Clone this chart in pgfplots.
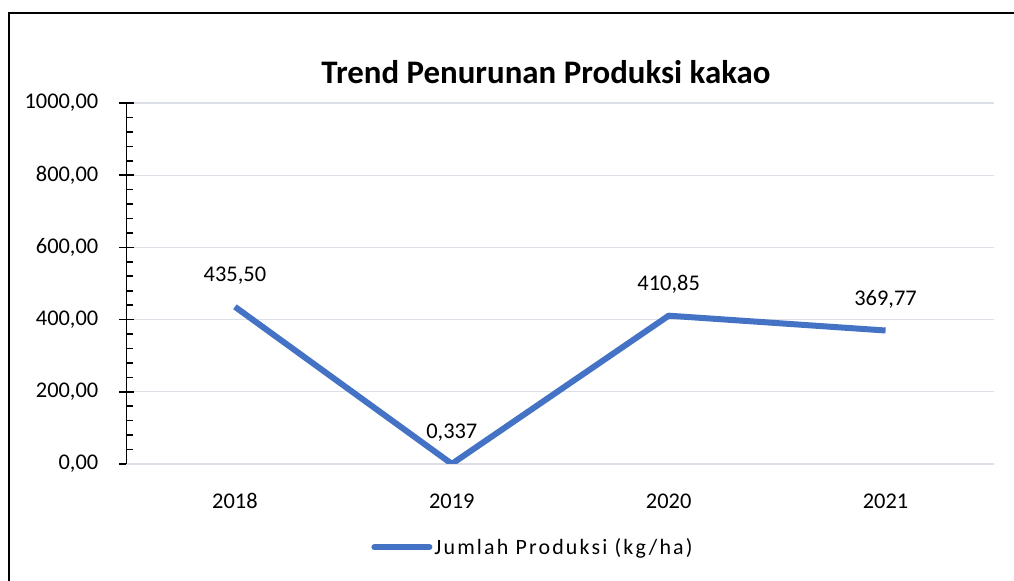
\documentclass[border=0pt]{standalone}
\usepackage{pgfplots}
\pgfplotsset{compat=1.18}
\usepackage{fontspec}
\setmainfont{Carlito}
\definecolor{lineblue}{HTML}{4472C4}
\definecolor{gridgray}{HTML}{DCDFE5}
\begin{document}
\begin{tikzpicture}
\useasboundingbox (0,0) rectangle (1014bp,581bp);
\fill[white] (0,0) rectangle (1014bp,581bp);
\draw[line width=2bp, line cap=rect] (9bp,0bp) -- (9bp,568bp) -- (1014bp,568bp);
\node[font=\fontsize{33}{38}\selectfont\bfseries] at (546bp,509bp) {Trend Penurunan Produksi kakao};
\begin{axis}[
  at={(126.5bp,117bp)}, anchor=south west,
  scale only axis, width=867.5bp, height=361bp,
  xmin=-0.5, xmax=3.5, ymin=0, ymax=1000,
  axis x line*=bottom, axis y line*=left,
  x axis line style={draw=gridgray, line width=1.3bp, -},
  y axis line style={draw=black, line width=1.8bp, -},
  xtick={0,1,2,3}, xticklabels={2018,2019,2020,2021},
  xtick style={draw=none},
  ytick={0,200,...,1000},
  minor y tick num=4,
  tick align=center,
  major tick length=14bp,
  minor tick length=6bp,
  every minor tick/.append style={xshift=3bp},
  y tick style={black, line width=1.6bp},
  ymajorgrids, major grid style={draw=gridgray, line width=1.3bp},
  xticklabel style={anchor=center, inner sep=0pt, yshift=-30bp},
  yticklabel style={anchor=east, inner sep=0pt, xshift=-21bp},
  tick label style={font=\fontsize{22.5}{26}\selectfont},
  /pgf/number format/.cd, assume math mode=true, fixed, fixed zerofill, precision=2, use comma, 1000 sep={},
  /pgfplots/.cd,
  legend style={at={(0.4686,-0.23)}, anchor=center, draw=none, fill=none,
    font=\fontsize{22}{26}\selectfont\addfontfeature{LetterSpace=10}, inner sep=0pt},
  legend image code/.code={\draw[#1, line cap=round] (0bp,0bp) -- (55bp,0bp);},
  legend cell align=left,
  nodes near coords, point meta=explicit symbolic,
  every node near coord/.append style={anchor=center, yshift=31bp, font=\fontsize{22.5}{26}\selectfont, text=black},
]
\addplot[lineblue, line width=6bp, line join=round, mark=none] table[meta=lab] {
x y lab
0 435.50 435,50
1 0.337 0,337
2 410.85 410,85
3 369.77 369,77
};
\addlegendentry{Jumlah Produksi (kg/ha)}
\end{axis}
\end{tikzpicture}
\end{document}
